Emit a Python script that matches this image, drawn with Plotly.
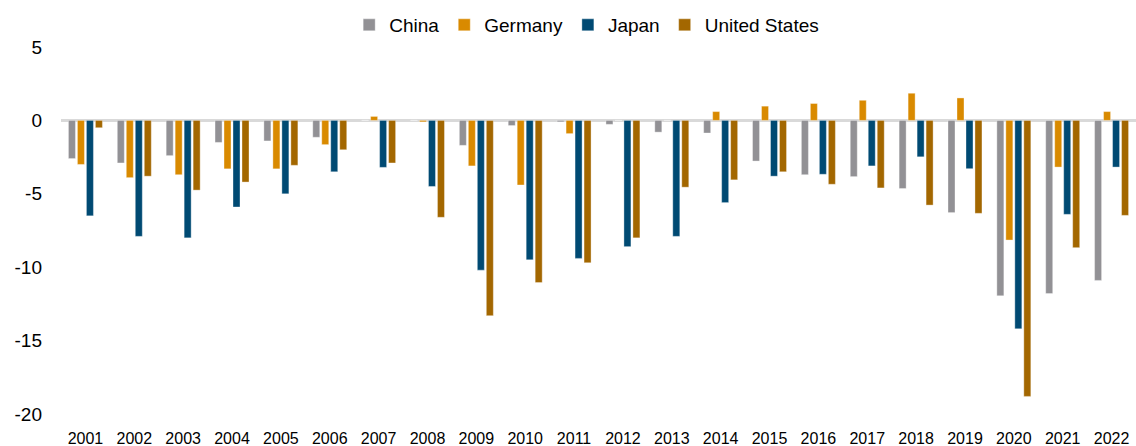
import plotly.graph_objects as go

years = [str(y) for y in range(2001, 2023)]

china = [-2.6, -2.9, -2.4, -1.5, -1.4, -1.15, 0.0, 0.0, -1.7, -0.35, -0.1,
         -0.27, -0.8, -0.86, -2.77, -3.7, -3.83, -4.64, -6.28, -11.95, -11.8, -10.9]
germany = [-3.0, -3.9, -3.7, -3.3, -3.3, -1.65, 0.27, -0.1, -3.1, -4.4, -0.9,
           0.0, 0.0, 0.6, 0.97, 1.15, 1.37, 1.85, 1.53, -8.15, -3.18, 0.6]
japan = [-6.5, -7.9, -8.0, -5.9, -5.0, -3.5, -3.2, -4.5, -10.2, -9.5, -9.4,
         -8.6, -7.9, -5.6, -3.8, -3.67, -3.1, -2.48, -3.29, -14.2, -6.4, -3.18]
united_states = [-0.5, -3.8, -4.75, -4.2, -3.06, -2.0, -2.9, -6.6, -13.3, -11.05, -9.7,
                 -8.0, -4.55, -4.05, -3.5, -4.35, -4.6, -5.77, -6.33, -18.8, -8.67, -6.47]

y_ticks = [5, 0, -5, -10, -15, -20]
y_tick_text = ["5", "0", "-5", "-10", "-15", "-20"]

series = [
    ("China", china, "#929195"),
    ("Germany", germany, "#D98A00"),
    ("Japan", japan, "#004A73"),
    ("United States", united_states, "#A36700"),
]

fig = go.Figure()
for name, vals, color in series:
    fig.add_trace(go.Bar(
        x=years, y=vals, name=name,
        marker=dict(color=color, line=dict(color="rgba(255,255,255,0.45)", width=0.8)),
    ))

font_family = "Liberation Sans, Arial, sans-serif"

fig.update_layout(
    width=1136, height=446,
    margin=dict(l=61, r=0, t=47, b=32),
    paper_bgcolor="white", plot_bgcolor="white",
    barmode="group", bargap=0.264, bargroupgap=0.22,
    font=dict(family=font_family, color="#000000"),
    legend=dict(
        orientation="h", x=0.489, xanchor="center", y=1.06, yanchor="middle",
        font=dict(size=19, family=font_family), traceorder="normal",
    ),
    xaxis=dict(
        type="category", showgrid=False, showline=False,
        ticks="outside", ticklen=10, tickcolor="rgba(0,0,0,0)",
        tickfont=dict(size=16, family=font_family),
    ),
    yaxis=dict(
        range=[-20, 5], tickvals=y_ticks, ticktext=y_tick_text,
        showgrid=False, showline=False,
        zeroline=True, zerolinecolor="#D9D9D9", zerolinewidth=2.5,
        ticklabelstandoff=18,
        tickfont=dict(size=19, family=font_family),
    ),
)

fig.write_html("out.html")
